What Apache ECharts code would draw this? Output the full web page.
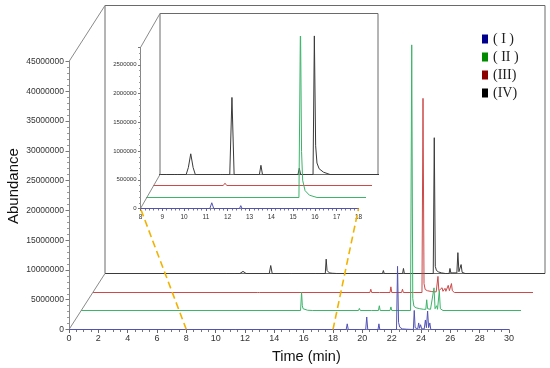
<!DOCTYPE html>
<html>
<head>
<meta charset="utf-8">
<script src="https://cdn.jsdelivr.net/npm/echarts@6/dist/echarts.min.js"></script>
<style>html,body{margin:0;padding:0;background:#fff}#c{width:550px;height:368px}</style>
</head>
<body>
<div id="c"></div>
<script>
// ---- data: [time (min), abundance] ----
const seriesNames = ['( I )', '( II )', '(III)', '(IV)'];
const seriesI = [
  [0,0],
  [11.18,0],[11.27,0.10e6],[11.36,0],
  [12.54,0],[12.6,0.05e6],[12.66,0],
  [18.9,0],[18.97,0.95e6],[19.04,0],
  [19.79,0],[19.84,0.3e6],[19.89,0],
  [20.23,0],[20.3,2.1e6],[20.37,0],
  [21.07,0],[21.13,0.95e6],[21.19,0],
  [22.33,0],[22.4,10.6e6],[22.47,1.2e6],[22.55,0.4e6],[22.64,0.4e6],[22.72,0.1e6],
  [23.0,0.05e6],[23.07,0.2e6],[23.13,0.05e6],
  [23.48,0],[23.54,3.2e6],[23.6,0.3e6],
  [23.78,0.1e6],[23.84,1.1e6],[23.9,0.2e6],
  [23.97,0.8e6],[24.05,0.1e6],
  [24.22,0.1e6],[24.3,1.6e6],[24.37,0.3e6],
  [24.45,3.1e6],[24.52,0.3e6],
  [24.6,1.1e6],[24.67,0],
  [30,0]
];
const seriesII = [
  [0,0],
  [14.97,0],[15.04,3.1e6],[15.09,0.8e6],[15.14,0.3e6],[15.25,0.12e6],[15.45,0.04e6],[15.8,0],
  [18.92,0],[18.98,0.35e6],[19.04,0],
  [19.82,0],[19.86,0.15e6],[19.9,0],
  [20.28,0],[20.34,0.8e6],[20.4,0],
  [21.07,0],[21.13,0.6e6],[21.19,0],
  [22.47,0],[22.55,44.6e6],[22.62,2.0e6],[22.7,0.7e6],[22.85,0.45e6],[23.1,0.3e6],[23.35,0.2e6],
  [23.51,0.2e6],[23.57,1.8e6],[23.63,0.3e6],
  [23.83,0.2e6],[23.89,0.45e6],[23.95,0.2e6],
  [24.07,3.8e6],[24.14,0.3e6],
  [24.25,0.8e6],[24.31,0.2e6],
  [24.43,3.3e6],[24.5,0.3e6],
  [24.6,0.6e6],[24.68,0],
  [30,0]
];
const seriesIII = [
  [0,0],
  [11.2,0],[11.28,0.04e6],[11.36,0],
  [18.88,0],[18.94,0.55e6],[19.0,0],
  [19.53,0],[19.57,0.2e6],[19.61,0],
  [20.25,0],[20.31,0.95e6],[20.37,0],
  [21.04,0],[21.1,0.55e6],[21.16,0],
  [21.86,0],[21.9,0.3e6],[21.94,0],
  [22.43,0],[22.5,32.6e6],[22.57,1.5e6],[22.65,0.5e6],[22.8,0.3e6],[23.1,0.15e6],[23.4,0.1e6],
  [23.46,0.1e6],[23.52,2.7e6],[23.58,0.3e6],
  [23.8,0.8e6],[23.86,0.2e6],
  [24.0,0.7e6],[24.06,0.2e6],
  [24.22,1.2e6],[24.3,0.3e6],
  [24.44,1.5e6],[24.5,0.3e6],
  [24.57,0.5e6],[24.64,0],
  [30,0]
];
const seriesIV = [
  [0,0],
  [8.3,0],[8.38,0.03e6],[8.46,0],[8.66,0],[8.73,0.02e6],[8.8,0],
  [9.2,0],[9.3,0.12e6],[9.41,0.36e6],[9.52,0.12e6],[9.62,0],
  [10.78,0],[10.83,0.02e6],[10.88,0],
  [11.2,0],[11.3,1.34e6],[11.4,0],
  [12.56,0],[12.63,0.16e6],[12.7,0],
  [14.33,0],[14.39,0.11e6],[14.45,0],
  [15.02,0],[15.08,2.41e6],[15.14,0.5e6],[15.2,0.2e6],[15.3,0.1e6],[15.5,0.04e6],[15.8,0],
  [18.92,0],[18.98,0.5e6],[19.04,0],
  [20.29,0],[20.35,0.85e6],[20.41,0],
  [21.08,0],[21.12,0.3e6],[21.16,0],
  [22.38,0],[22.45,22.8e6],[22.52,1.2e6],[22.6,0.5e6],[22.75,0.25e6],[22.95,0.1e6],[23.2,0],
  [23.46,0],[23.52,0.85e6],[23.58,0.1e6],
  [23.72,0.1e6],[23.77,0.3e6],[23.82,0.1e6],
  [23.99,0.1e6],[24.06,3.5e6],[24.13,0.3e6],
  [24.28,1.5e6],[24.35,0.2e6],
  [24.48,0.3e6],[24.55,0],
  [30,0]
];
const allSeries = [seriesI, seriesII, seriesIII, seriesIV];
const mainX = {min: 0, max: 30, interval: 2};
const mainY = {min: 0, max: 45000000, interval: 5000000};
const insetX = {min: 8, max: 18, interval: 1};
const insetY = {min: 0, max: 2800000, interval: 500000};

// ---- styling / layout ----
const lineColors = ['#5252b6', '#3cb46a', '#cc4a4a', '#3a3a3a'];
const legendColors = ['#00008c', '#008a00', '#8e0000', '#000000'];
const MAIN = {left: 69, top: 61.5, w: 440, h: 268, dx: 12, dy: -18.67};
const INSET = {left: 140.5, top: 47.5, w: 218, h: 161, dx: 6.5, dy: -11.33};
const FONT = 'Liberation Sans, Arial, sans-serif';

const grids = [], xAxes = [], yAxes = [], series = [];
function addPlane(L, k, xr, yr, isInset) {
  const idx = grids.length;
  const isFront = k === 0, isBack = k === 3;
  grids.push({
    left: L.left + L.dx * k, top: L.top + Math.round(L.dy * k), width: L.w, height: L.h,
    show: isBack, borderColor: '#6a6a6a', borderWidth: 1, backgroundColor: 'transparent'
  });
  const fs = isInset ? 6.5 : 9;
  xAxes.push({
    type: 'value', gridIndex: idx, min: xr.min, max: xr.max, interval: xr.interval,
    show: isFront, splitLine: {show: false},
    axisLine: {show: true, lineStyle: {color: '#7a7aa8', width: 1}},
    axisTick: {show: true, length: isInset ? 2.5 : 3.5, lineStyle: {color: '#666'}},
    minorTick: {show: true, splitNumber: isInset ? 5 : 4, length: isInset ? 2 : 2.5, lineStyle: {color: '#777'}},
    axisLabel: {fontSize: fs, color: '#333', margin: isInset ? 5 : 5, fontFamily: FONT}
  });
  yAxes.push({
    type: 'value', gridIndex: idx, min: yr.min, max: yr.max, interval: yr.interval,
    show: isFront, splitLine: {show: false},
    axisLine: {show: true, lineStyle: {color: '#888', width: 1}},
    axisTick: {show: true, length: isInset ? 2.5 : 3.5, lineStyle: {color: '#777'}},
    minorTick: {show: true, splitNumber: 5, length: isInset ? 1.5 : 2, lineStyle: {color: '#999'}},
    axisLabel: {fontSize: isInset ? 6 : 8.5, color: '#333', margin: isInset ? 4 : 5,
      fontFamily: FONT, showMaxLabel: !isInset, formatter: v => String(Math.round(v))}
  });
  series.push({
    name: seriesNames[k], type: 'line', xAxisIndex: idx, yAxisIndex: idx,
    data: allSeries[k], showSymbol: false, symbol: 'none', clip: true, silent: true,
    lineStyle: {color: lineColors[k], width: 1}, itemStyle: {color: legendColors[k]},
    z: isInset ? 12 : 2
  });
}
// back planes first so front traces are drawn on top
for (let k = 3; k >= 0; k--) addPlane(MAIN, k, mainX, mainY, false);
for (let k = 3; k >= 0; k--) addPlane(INSET, k, insetX, insetY, true);
const gMain = k => 3 - k, gInset = k => 7 - k;

const chart = echarts.init(document.getElementById('c'), null, {renderer: 'canvas'});
chart.setOption({
  animation: false,
  backgroundColor: '#fff',
  grid: grids, xAxis: xAxes, yAxis: yAxes, series: series,
  legend: {
    data: seriesNames.map((n, i) => ({name: n, icon: 'rect', itemStyle: {color: legendColors[i], borderWidth: 0}})),
    orient: 'vertical', left: 477, top: 27, itemWidth: 6, itemHeight: 9, itemGap: 4,
    selectedMode: false,
    textStyle: {fontFamily: 'Liberation Serif, Times New Roman, serif', fontSize: 14, color: '#222', lineHeight: 14}
  }
});

function px(g, p) { return chart.convertToPixel({gridIndex: g}, p); }
function seg(a, b, style) {
  return {type: 'line', shape: {x1: a[0], y1: a[1], x2: b[0], y2: b[1]}, style: style, z: 50, silent: true};
}
const grey = {stroke: '#8a8a8a', lineWidth: 1};
const yellow = {stroke: '#f2b300', lineWidth: 1.6, lineDash: [7, 4]};
const g = [
  seg(px(gMain(0), [mainX.min, 0]), px(gMain(3), [mainX.min, 0]), grey),
  seg(px(gMain(0), [mainX.min, mainY.max]), px(gMain(3), [mainX.min, mainY.max]), grey),
  seg(px(gInset(0), [insetX.min, 0]), px(gInset(3), [insetX.min, 0]), grey),
  seg(px(gInset(0), [insetX.min, insetY.max]), px(gInset(3), [insetX.min, insetY.max]), grey),
  seg(px(gMain(0), [insetX.min, 0]), px(gInset(0), [insetX.min, 0]), yellow),
  seg(px(gMain(0), [insetX.max, 0]), px(gInset(0), [insetX.max, 0]), yellow),
  {type: 'text', left: 272, top: 349, silent: true, z: 50,
    style: {text: 'Time (min)', fontSize: 14.5, fontFamily: FONT, fill: '#111'}},
  {type: 'text', x: 6, y: 224, rotation: Math.PI / 2, silent: true, z: 50,
    style: {text: 'Abundance', fontSize: 15, fontFamily: FONT, fill: '#111'}}
];
chart.setOption({graphic: g});
</script>
</body>
</html>
